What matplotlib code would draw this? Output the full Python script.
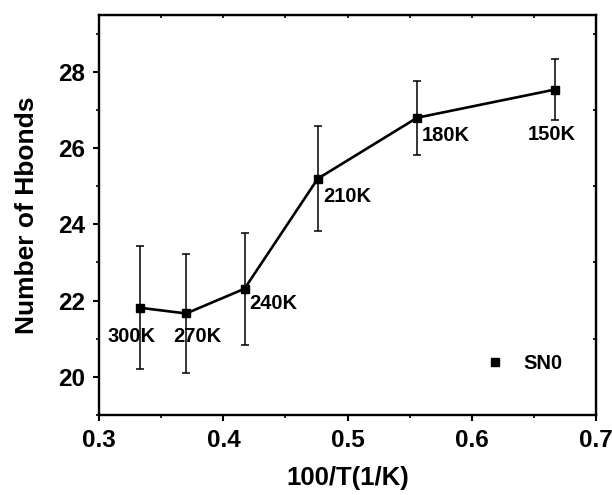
import numpy as np
import matplotlib.pyplot as plt
from matplotlib.ticker import MultipleLocator

plt.rcParams["font.family"] = ["Liberation Sans", "DejaVu Sans"]
plt.rcParams["font.weight"] = "bold"

# data
inv_temp = [0.333, 0.370, 0.417, 0.476, 0.556, 0.667]
hbonds = [21.81, 21.66, 22.31, 25.20, 26.80, 27.54]
hbonds_err = [1.61, 1.57, 1.47, 1.37, 0.97, 0.81]
temp_labels = ["300K", "270K", "240K", "210K", "180K", "150K"]
label_x = [0.326, 0.379, 0.421, 0.480, 0.560, 0.664]
label_y = [21.06, 21.06, 21.93, 24.72, 26.34, 26.35]
label_ha = ["center", "center", "left", "left", "left", "center"]

fig = plt.figure(figsize=(6.12, 4.95), dpi=100)
ax = fig.add_axes([0.162, 0.162, 0.812, 0.808])

# line + error bars
ax.errorbar(inv_temp, hbonds, yerr=hbonds_err, color="black", lw=1.9,
            marker="s", ms=6, ecolor="black", elinewidth=1.1,
            capsize=3.0, capthick=1.1, label="SN0")

# temperature labels
for x, y, t, ha in zip(label_x, label_y, temp_labels, label_ha):
    ax.text(x, y, t, ha=ha, va="center", fontsize=14.5, fontweight="bold")

ax.set_xlim(0.3, 0.7)
ax.set_ylim(19, 29.5)
ax.xaxis.set_major_locator(MultipleLocator(0.1))
ax.xaxis.set_minor_locator(MultipleLocator(0.05))
ax.yaxis.set_major_locator(MultipleLocator(2))
ax.yaxis.set_minor_locator(MultipleLocator(1))

ax.set_xlabel("100/T(1/K)", fontsize=18.5, fontweight="bold", labelpad=10)
ax.set_ylabel("Number of Hbonds", fontsize=19, fontweight="bold", labelpad=14)

ax.tick_params(which="major", direction="out", length=4, width=1.5,
               labelsize=17.5, pad=6)
ax.tick_params(which="minor", direction="out", length=2.5, width=1.2)
for sp in ax.spines.values():
    sp.set_linewidth(1.7)

# small inward minor ticks on the top and right frame
top = ax.secondary_xaxis("top")
top.set_xticks([])
top.xaxis.set_minor_locator(MultipleLocator(0.05))
top.tick_params(which="minor", direction="in", length=2.5, width=1.2)
right = ax.secondary_yaxis("right")
right.set_yticks([])
right.yaxis.set_minor_locator(MultipleLocator(2, offset=1))
right.tick_params(which="minor", direction="in", length=2.5, width=1.2)

# legend: marker only
ax.legend(handles=[plt.Line2D([], [], ls="none", marker="s", ms=5.5, color="black")],
          labels=["SN0"], loc="lower right", frameon=False,
          handlelength=1.0, handletextpad=0.9, bbox_to_anchor=(0.968, 0.06),
          prop={"weight": "bold", "size": 14.5})

fig.savefig("out.png", dpi=100)
